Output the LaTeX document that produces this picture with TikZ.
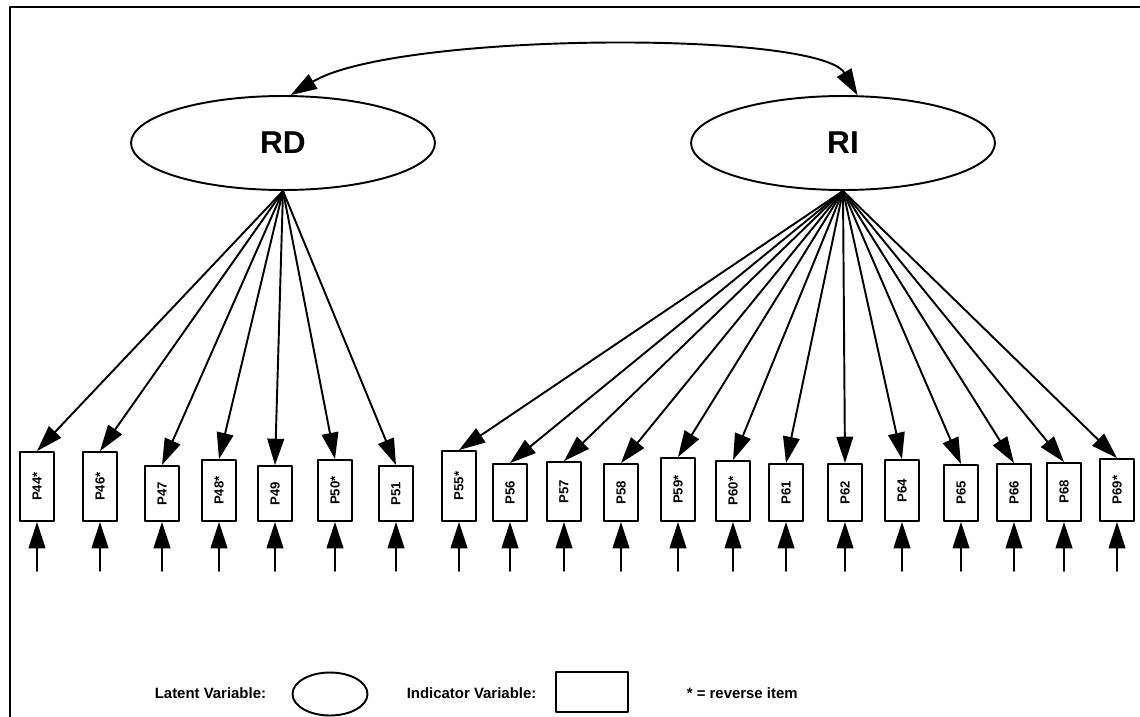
\documentclass[tikz,border=0pt]{standalone}
\usepackage{fontspec}
\setmainfont{Liberation Sans}
\usetikzlibrary{shapes.geometric,arrows.meta}

\begin{document}
\begin{tikzpicture}[x=0.02cm, y=-0.02cm, line width=1.1pt, line join=round, line cap=round,
  >={Triangle[length=15pt,width=9.5pt]},
  latent/.style={draw, ellipse, inner sep=0pt, minimum width=6.08cm, minimum height=1.88cm, font=\fontsize{18}{18}\selectfont\bfseries},
  indicator/.style={draw, rotate=90, anchor=west, inner sep=0pt, minimum height=0.69cm, font=\fontsize{7.5}{7.5}\selectfont\bfseries},
  keytext/.style={anchor=west, font=\fontsize{8.5}{8.5}\selectfont\bfseries}]
\useasboundingbox (0,0) rectangle (1140,717);
% frame
\draw (10,717) -- (10,7) -- (1140,7);
% latent variables
\node[latent] (RD) at (283,143) {RD};
\node[latent] (RI) at (843,143) {RI};
\draw[<->] (RD.81) .. controls (395,32) and (819,30) .. (RI.73);
% indicators of RD
\foreach \lab/\x/\h [count=\k] in {P44*/37/69, P46*/100/69, P47/162/55, P48*/219/61, P49/275/55, P50*/335/61, P51/396/55}{
  \node[indicator, minimum width=\h*0.02cm] (rd\k) at (\x,522) {\lab};
  \coordinate (erd\k) at (\x,571);
  \draw[->] (RD.south) -- (rd\k.east);
  \draw[->] (erd\k) -- (rd\k.west);
}
% indicators of RI
\foreach \lab/\x/\h [count=\k] in {P55*/459/70, P56/510/57, P57/564/59, P58/621/57, P59*/678/63, P60*/733/60, P61/786/57, P62/845/57, P64/902/61, P65/961/56, P66/1014/57, P68/1064/58, P69*/1117/62}{
  \node[indicator, minimum width=\h*0.02cm] (ri\k) at (\x,522) {\lab};
  \coordinate (eri\k) at (\x,571);
  \draw[->] (RI.south) -- (ri\k.east);
  \draw[->] (eri\k) -- (ri\k.west);
}
% legend
\node[keytext] (lvtext) at (148,693) {Latent Variable:};
\node[draw, ellipse, minimum width=1.5cm, minimum height=0.86cm] (lvkey) at (330,694) {};
\node[keytext] (ivtext) at (400,693) {Indicator Variable:};
\node[draw, minimum width=1.45cm, minimum height=0.8cm] (ivkey) at (592,692) {};
\node[keytext] (revtext) at (680,693) {* = reverse item};
\end{tikzpicture}
\end{document}
